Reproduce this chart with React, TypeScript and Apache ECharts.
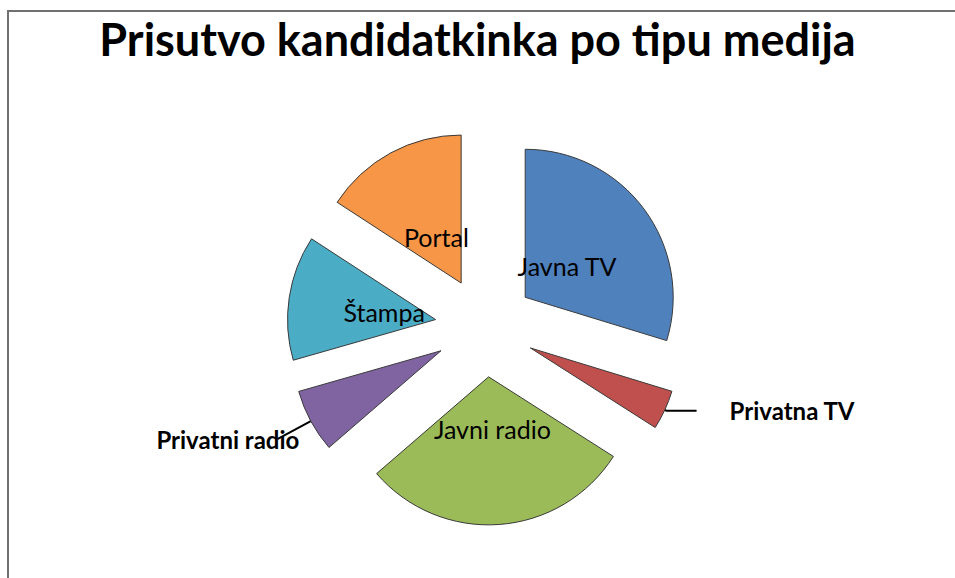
import React, { useEffect, useRef } from 'react';
import * as echarts from 'echarts';

const categories = ['Javna TV', 'Privatna TV', 'Javni radio', 'Privatni radio', 'Štampa', 'Portal'];
const values = [29.7, 4.3, 29.6, 6.9, 13.6, 15.8];
const colors = ['#4F81BD', '#C0504D', '#9BBB59', '#8064A2', '#4BACC6', '#F79646'];
const insideLabelled = ['Javna TV', 'Javni radio', 'Štampa', 'Portal'];
const titleText = 'Prisutvo kandidatkinka po tipu medija';

const outsideLabelCfg: Record<string, { length: number; length2: number; dist: number }> = {
  'Privatna TV': { length: 2, length2: 30, dist: 33 },
  'Privatni radio': { length: 38, length2: 0, dist: -22 },
};

const FONT = 'Lato, "Noto Sans", sans-serif';
const CENTER: [number, number] = [485, 327];
const RADIUS = 148;
const EXPLODE = 50;

export default function App() {
  const ref = useRef<HTMLDivElement>(null);

  useEffect(() => {
    document.body.style.margin = '0';
    if (!ref.current) return;
    const chart = echarts.init(ref.current, undefined, { renderer: 'svg' });

    const mainData = categories.map((name, i) => {
      const oc = outsideLabelCfg[name];
      return {
        name,
        value: values[i],
        selected: true,
        itemStyle: { color: colors[i] },
        label: oc
          ? {
              show: true,
              position: 'outside',
              distanceToLabelLine: oc.dist,
              fontFamily: FONT,
              fontWeight: 'bold',
              fontSize: 24,
              color: '#000',
              formatter: '{b}',
            }
          : { show: false },
        labelLine: oc
          ? { show: true, length: oc.length, length2: oc.length2, lineStyle: { color: '#000', width: 2 } }
          : { show: false },
      };
    });

    const labelData = categories.map((name, i) => ({
      name,
      value: values[i],
      selected: true,
      label: { show: insideLabelled.includes(name) },
    }));

    chart.setOption({
      animation: false,
      backgroundColor: '#fff',
      title: {
        text: titleText,
        left: 'center',
        top: 11,
        padding: [5, 0, 5, 14],
        textStyle: { fontFamily: FONT, fontWeight: 'bold', fontSize: 45, color: '#000' },
      },
      series: [
        {
          type: 'pie',
          z: 2,
          center: CENTER,
          radius: RADIUS,
          startAngle: 90,
          clockwise: true,
          selectedMode: 'multiple',
          selectedOffset: EXPLODE,
          avoidLabelOverlap: false,
          labelLayout: { hideOverlap: false },
          itemStyle: { borderColor: '#3a3a3a', borderWidth: 1 },
          select: { itemStyle: { borderColor: '#3a3a3a', borderWidth: 1 } },
          emphasis: { disabled: true },
          silent: true,
          data: mainData,
        },
        {
          type: 'pie',
          z: 10,
          center: CENTER,
          radius: 98,
          startAngle: 90,
          clockwise: true,
          selectedMode: 'multiple',
          selectedOffset: EXPLODE,
          avoidLabelOverlap: false,
          minShowLabelAngle: 0,
          labelLayout: { hideOverlap: false },
          itemStyle: { color: 'rgba(0,0,0,0)', borderWidth: 0 },
          select: { itemStyle: { color: 'rgba(0,0,0,0)', borderWidth: 0 } },
          emphasis: { disabled: true },
          silent: true,
          label: {
            show: true,
            position: 'inside',
            overflow: 'none',
            fontFamily: FONT,
            fontSize: 25,
            color: '#000',
            formatter: '{b}',
          },
          labelLine: { show: false },
          data: labelData,
        },
      ],
    });

    return () => chart.dispose();
  }, []);

  return (
    <div style={{ position: 'relative', width: 955, height: 578, overflow: 'hidden', background: '#fff' }}>
      <div ref={ref} style={{ position: 'absolute', left: 0, top: 0, width: 955, height: 578 }} />
      <div
        style={{
          position: 'absolute',
          left: 7,
          top: 10,
          right: -4,
          bottom: -4,
          borderLeft: '2px solid #707070',
          borderTop: '2px solid #707070',
          pointerEvents: 'none',
        }}
      />
    </div>
  );
}
